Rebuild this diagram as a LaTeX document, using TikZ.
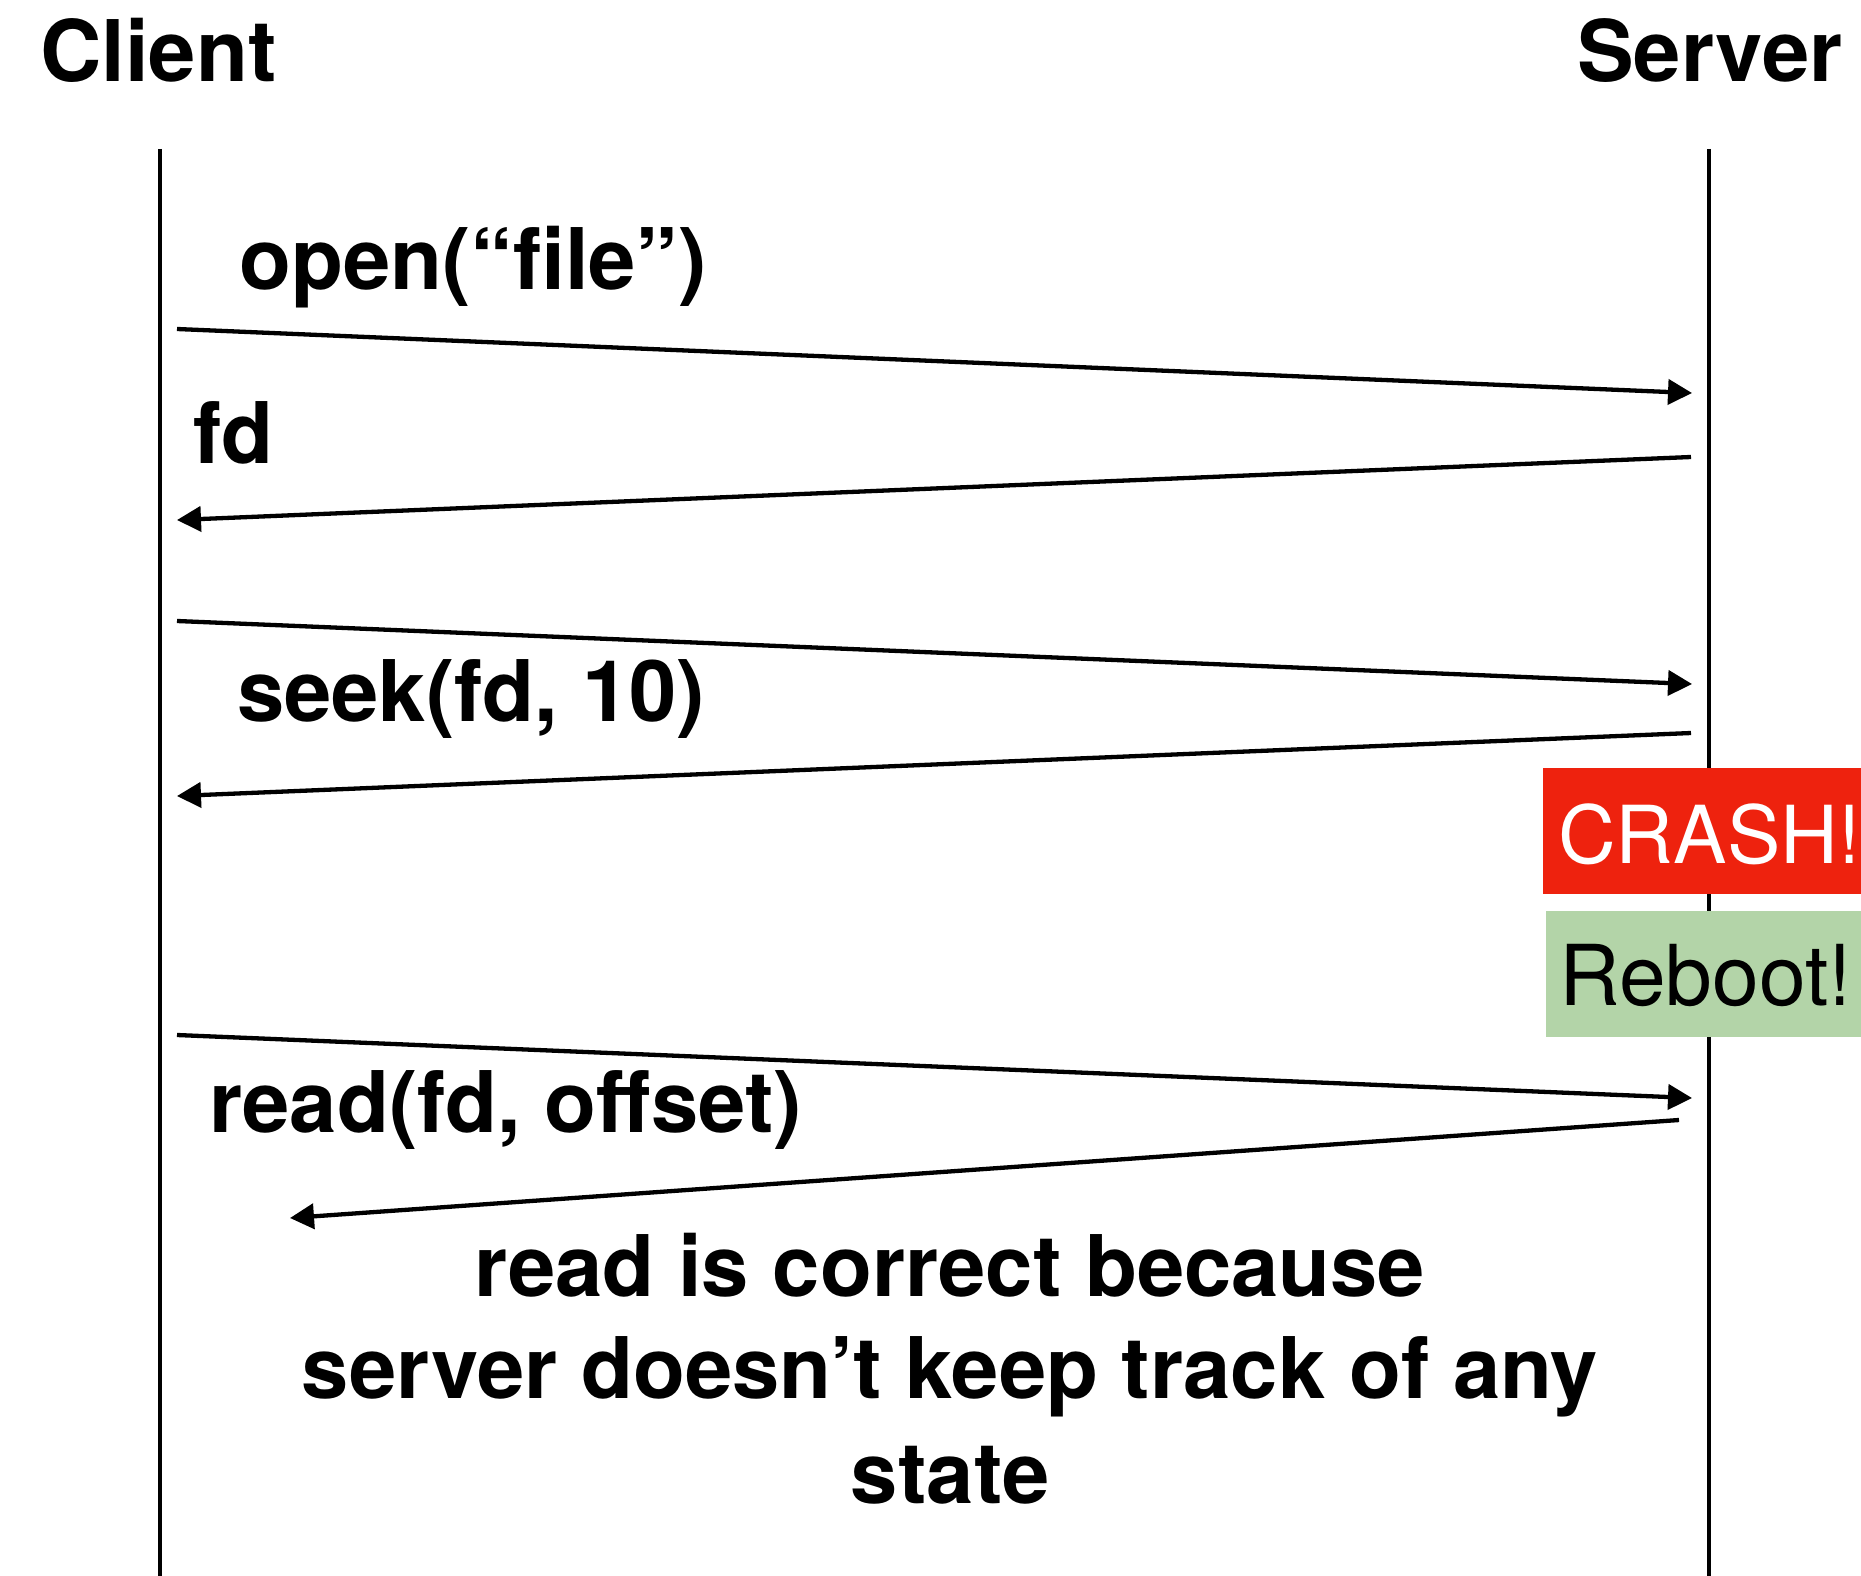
\documentclass[tikz,border=0pt]{standalone}
\usepackage{fontspec}
\setmainfont{TeX Gyre Heros}
\usetikzlibrary{arrows.meta}
\definecolor{crashred}{RGB}{238,34,14}
\definecolor{rebootgreen}{RGB}{179,212,168}
\tikzset{
  lbl/.style={anchor=base west, inner sep=0pt, font=\fontsize{85}{100}\selectfont\bfseries},
  note/.style={anchor=base, inner sep=0pt, font=\fontsize{85}{100}\selectfont\bfseries},
  lifeline/.style={line width=4.3pt},
  msg/.style={line width=4.3pt, -{Triangle[length=24pt,width=25pt]}},
  status/.style={anchor=base west, inner sep=0pt, font=\fontsize{80}{96}\selectfont}
}
\begin{document}
\begin{tikzpicture}[x=1pt,y=-1pt]
\useasboundingbox (0,0) rectangle (1861,1576);
% headers
\node[lbl] (client) at (40,82) {Client};
\node[lbl] (server) at (1577,82) {Server};
% lifelines
\coordinate (ctop) at (160,149);
\coordinate (cbot) at (160,1576);
\coordinate (stop) at (1709,149);
\coordinate (sbot) at (1709,1576);
\draw[lifeline] (ctop) -- (cbot);
\draw[lifeline] (stop) -- (sbot);
% message end points
\coordinate (m1a) at (177,329);  \coordinate (m1b) at (1692,393);
\coordinate (m2a) at (1691,457); \coordinate (m2b) at (177,520);
\coordinate (m3a) at (177,621);  \coordinate (m3b) at (1692,684);
\coordinate (m4a) at (1691,733); \coordinate (m4b) at (177,796);
\coordinate (m5a) at (177,1035); \coordinate (m5b) at (1692,1098);
\coordinate (m6a) at (1679,1120); \coordinate (m6b) at (290,1218);
\draw[msg] (m1a) -- (m1b);
\draw[msg] (m2a) -- (m2b);
\draw[msg] (m3a) -- (m3b);
\draw[msg] (m4a) -- (m4b);
\draw[msg] (m5a) -- (m5b);
\draw[msg] (m6a) -- (m6b);
% labels
\node[lbl] (lopen) at (239,289) {open(“file”)};
\node[lbl] (lfd) at (193,463) {fd};
\node[lbl] (lseek) at (237,721) {seek(fd, 10)};
\node[lbl] (lread) at (209,1132) {read(fd, offset)};
% crash / reboot
\fill[crashred] (1543,768) rectangle (1861,894);
\node[status, text=white] (crash) at (1558,863) {CRASH!};
\fill[rebootgreen] (1546,911) rectangle (1861,1037);
\node[status, text=black, font=\fontsize{84}{96}\selectfont] (reboot) at (1559,1005) {Reboot!};
% explanation
\node[note] (n1) at (950,1296) {read is correct because};
\node[note] (n2) at (950,1398) {server doesn’t keep track of any};
\node[note] (n3) at (950,1503) {state};
\end{tikzpicture}
\end{document}
